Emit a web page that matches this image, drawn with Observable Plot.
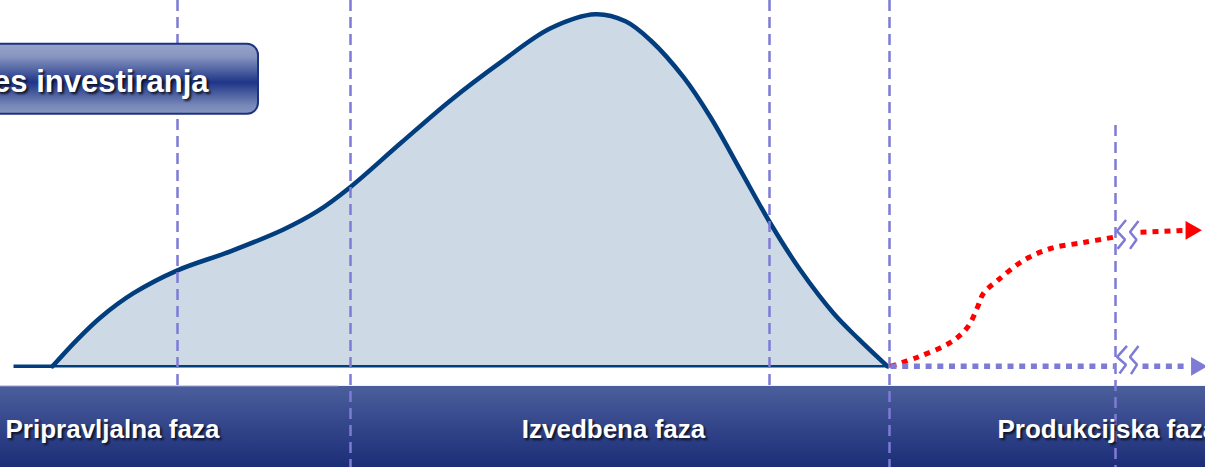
<!DOCTYPE html>
<html><head><meta charset="utf-8">
<script src="https://cdn.jsdelivr.net/npm/d3@7"></script>
<script src="https://cdn.jsdelivr.net/npm/@observablehq/plot@0.6"></script>
<style>html,body{margin:0;padding:0;background:#fff;overflow:hidden}</style>
</head><body><div id="chart"></div>
<script>
// Investment curve (time units, value units)
const curveT = [5.2, 7.6, 10.0, 13.3, 17.7, 23.0, 28.3, 31.7, 35.0, 40.0, 45.0, 50.0, 55.0, 59.5, 62.5, 65.0, 68.3, 71.0, 74.0, 77.0, 80.0, 83.3, 85.8, 88.7];
const curveV = [0, 7.4, 13.9, 20.8, 27.3, 32.7, 38.9, 44.1, 51.0, 63.4, 75.6, 86.4, 96.1, 100.1, 98.1, 92.7, 82.2, 70.8, 55.7, 40.6, 27.3, 15.1, 7.8, 0];
const leadT = [1.3, 5.2];
// Production-phase return (red dotted)
const redT = [89.0, 91.7, 95.0, 96.7, 97.7, 98.3, 99.7, 102.3, 105.0, 108.3, 111.3];
const redV = [0, 2.6, 6.8, 11.1, 16.8, 20.8, 24.4, 30.1, 33.5, 35.2, 36.7];
const redT2 = [114.0, 118.6];
const redV2 = [38.1, 38.7];
const redArrow = {t: 119.05, v: 38.66};
// Zero line (purple dotted)
const zeroT1 = [89.0, 111.4];
const zeroT2 = [114.2, 118.8];
const zeroArrow = {t: 119.6, v: 0};
// Phase boundaries
const ruleT = [17.7, 35.0, 76.9, 88.9, 111.5];
const ruleTop = [104, 104, 104, 104, 68.5];
const ruleBottom = [-5.7, -28.75, -5.7, -28.75, -28.75];
// Break marks (two zigzags at each break)
const breakPts = [
  {g: "a1", t: [112.55, 111.65, 112.45, 111.7], v: [41.6, 38.46, 36.0, 33.4]},
  {g: "a2", t: [113.8, 112.95, 113.6, 112.95], v: [41.3, 38.2, 36.0, 33.4]},
  {g: "b1", t: [112.65, 111.65, 112.55, 111.9], v: [5.8, 2.64, 0.48, -2.0]},
  {g: "b2", t: [113.8, 112.95, 113.65, 113.05], v: [5.8, 2.64, 0.48, -2.2]}
];
// Band and labels
const bandT = [0, 120.5];
const bandTop = -5.7, bandBottom = -28.75;
const phaseLabels = ["Pripravljalna faza", "Izvedbena faza", "Produkcijska faza"];
const phaseT = [0.5, 61.3, 99.7];
const phaseAnchor = ["start", "middle", "start"];
const phaseV = -18.1;
const titleText = "Proces investiranja";
const titleBox = {x1: -2, x2: 25.8, y1: 71.63, y2: 91.53};
const titleT = 20.8, titleV = 80.7;

const curve = curveT.map((t, i) => ({t, v: curveV[i]}));
const red1 = redT.map((t, i) => ({t, v: redV[i]}));
const red2 = redT2.map((t, i) => ({t, v: redV2[i]}));
const zero1 = zeroT1.map(t => ({t, v: 0}));
const zero2 = zeroT2.map(t => ({t, v: 0}));
const lead = leadT.map(t => ({t, v: 0}));
const base = [{t: curveT[0], v: 0}, {t: curveT[curveT.length - 1], v: 0}];
const rules = ruleT.map((t, i) => ({t, top: ruleTop[i], bottom: ruleBottom[i]}));
const breaks = breakPts.flatMap(b => b.t.map((t, i) => ({g: b.g, t, v: b.v[i]})));

const font = "Liberation Sans, Arial, sans-serif";
const SH = "#010101";
const dotted = {strokeLinecap: "butt", strokeLinejoin: "miter"};
const phaseMarks = phaseLabels.flatMap((label, i) => [
  Plot.text([{t: phaseT[i], v: phaseV, label}], {x: "t", y: "v", text: "label", textAnchor: phaseAnchor[i], fill: SH, fillOpacity: 0.75, dx: 2, dy: 2, fontSize: 26, fontWeight: "bold", fontFamily: font}),
  Plot.text([{t: phaseT[i], v: phaseV, label}], {x: "t", y: "v", text: "label", textAnchor: phaseAnchor[i], fill: "white", fontSize: 26, fontWeight: "bold", fontFamily: font})
]);

const plot = Plot.plot({
  width: 1205, height: 467, margin: 0,
  x: {domain: [0, 120.5], axis: null},
  y: {domain: [-28.75, 104], axis: null},
  style: {background: "white", fontFamily: font, overflow: "hidden"},
  marks: [
    Plot.rect([{x1: bandT[0], x2: bandT[1], y1: bandBottom, y2: bandTop}], {x1: "x1", x2: "x2", y1: "y1", y2: "y2", fill: "url(#bandGrad)"}),
    Plot.line([{t: 0, v: bandTop}, {t: 33.7, v: bandTop}], {x: "t", y: "v", stroke: "#6e7eb4", strokeWidth: 1.2}),
    Plot.areaY(curve, {x: "t", y: "v", fill: "#cdd9e5", curve: "catmull-rom"}),
    Plot.line(lead, {x: "t", y: "v", stroke: "#023e7d", strokeWidth: 3.5, strokeLinecap: "butt"}),
    Plot.line(base, {x: "t", y: "v", stroke: "#023e7d", strokeWidth: 2.5, strokeLinecap: "butt"}),
    Plot.line(curve, {x: "t", y: "v", stroke: "#023e7d", strokeWidth: 4.5, curve: "catmull-rom"}),
    Plot.ruleX(rules, {x: "t", y1: "top", y2: "bottom", stroke: "#7d7bd6", strokeWidth: 2.5, strokeDasharray: "11,6"}),
    Plot.rect([titleBox], {x1: "x1", x2: "x2", y1: "y1", y2: "y2", rx: 11, fill: "url(#titleGrad)", stroke: "#1d3380", strokeWidth: 2}),
    Plot.text([{t: titleT, v: titleV, label: titleText}], {x: "t", y: "v", text: "label", textAnchor: "end", fill: SH, fillOpacity: 0.8, dx: 2, dy: 2, fontSize: 31, fontWeight: "bold", fontFamily: font}),
    Plot.text([{t: titleT, v: titleV, label: titleText}], {x: "t", y: "v", text: "label", textAnchor: "end", fill: "white", fontSize: 31, fontWeight: "bold", fontFamily: font}),
    Plot.line(red1, {x: "t", y: "v", stroke: "red", strokeWidth: 5, strokeDasharray: "6,6", curve: "catmull-rom", ...dotted}),
    Plot.line(red2, {x: "t", y: "v", stroke: "red", strokeWidth: 5, strokeDasharray: "6,6", ...dotted}),
    Plot.line(zero1, {x: "t", y: "v", stroke: "#7d7bd6", strokeWidth: 5.5, strokeDasharray: "6,5.7", ...dotted}),
    Plot.line(zero2, {x: "t", y: "v", stroke: "#7d7bd6", strokeWidth: 5.5, strokeDasharray: "6,5.7", ...dotted}),
    Plot.line(breaks, {x: "t", y: "v", z: "g", stroke: "#7d7bd6", strokeWidth: 2.5, strokeLinecap: "butt", strokeLinejoin: "miter"}),
    Plot.dot([redArrow], {x: "t", y: "v", symbol: "triangle2", r: 9, rotate: 90, fill: "red", stroke: "none"}),
    Plot.dot([zeroArrow], {x: "t", y: "v", symbol: "triangle2", r: 9, rotate: 90, fill: "#7d7bd6", stroke: "none"}),
    ...phaseMarks
  ]
});

const svg = d3.select(plot);
const defs = svg.insert("defs", ":first-child");
const bg = defs.append("linearGradient").attr("id", "bandGrad").attr("x1", 0).attr("y1", 0).attr("x2", 0).attr("y2", 1);
bg.append("stop").attr("offset", "0%").attr("stop-color", "#4b5e9c");
bg.append("stop").attr("offset", "100%").attr("stop-color", "#1b2d77");
const tg = defs.append("linearGradient").attr("id", "titleGrad").attr("x1", 0).attr("y1", 0).attr("x2", 0).attr("y2", 1);
[["0%", "#97a4c9"], ["18%", "#8795c0"], ["55%", "#1f3588"], ["88%", "#7888b8"], ["100%", "#8796c0"]].forEach(([o, c]) => tg.append("stop").attr("offset", o).attr("stop-color", c));
svg.selectAll(`g[fill="${SH}"]`).style("filter", "blur(1px)");
document.getElementById("chart").appendChild(plot);
</script>
</body></html>
